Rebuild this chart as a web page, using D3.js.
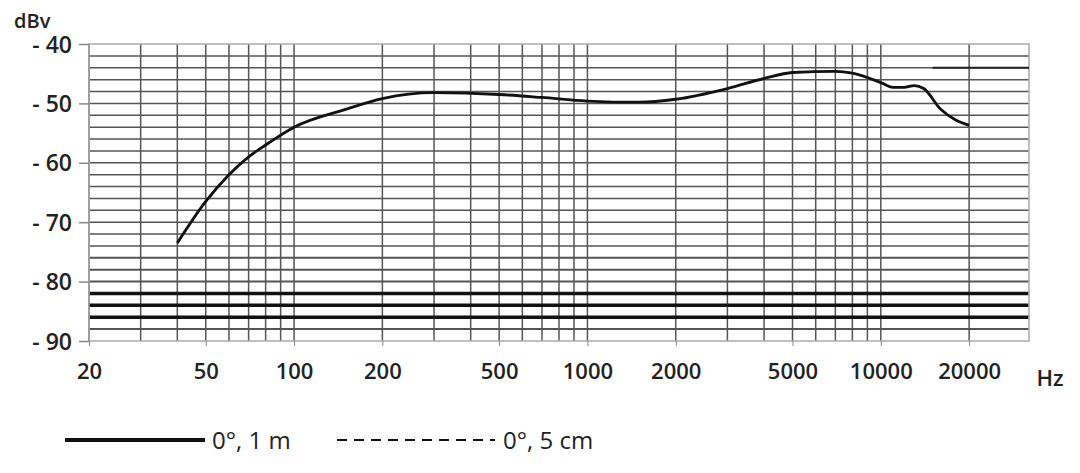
<!DOCTYPE html><html><head><meta charset="utf-8"><script src="https://cdn.jsdelivr.net/npm/d3@7"></script>
<style>body{margin:0;background:#fff}text{font-family:"Open Sans",sans-serif;fill:#222}</style></head><body><svg width="1080" height="473"></svg><script>
const freqs=[40,50,60,70,80,100,150,200,300,500,700,1000,1500,2000,3000,4000,5000,7000,8000,10000,11000,12000,13000,14000,16000,18000,20000];
const dbv=[-73.5,-66.5,-62,-59,-57,-54,-51,-49.2,-48.2,-48.5,-49,-49.6,-49.8,-49.3,-47.5,-45.8,-44.8,-44.6,-44.9,-46.5,-47.3,-47.3,-47,-47.5,-51,-52.8,-53.7];
const xTicks=[20,50,100,200,500,1000,2000,5000,10000,20000];
const yTicks=[-40,-50,-60,-70,-80,-90];
const vGrid=[20,30,40,50,60,70,80,90,100,200,300,400,500,600,700,800,900,1000,2000,3000,4000,5000,6000,7000,8000,9000,10000,20000];
const hGrid=d3.range(-88,-40,2);
const thickH=[-82,-84,-86];
const svg=d3.select("svg");
const x=d3.scaleLog().domain([20,32000]).range([89,1029]);
const y=d3.scaleLinear().domain([-90,-40]).range([341,44]);
const g=svg.append("g");
g.selectAll(".v").data(vGrid).join("line").attr("x1",d=>x(d)).attr("x2",d=>x(d)).attr("y1",44).attr("y2",341).attr("stroke","#555").attr("stroke-width",1.5);
g.selectAll(".h").data(hGrid).join("line").attr("x1",89).attr("x2",1029).attr("y1",d=>y(d)).attr("y2",d=>y(d)).attr("stroke",d=>thickH.includes(d)?"#111":"#555").attr("stroke-width",d=>thickH.includes(d)?3.5:(d<=-76?2:1.5));
g.append("rect").attr("x",89).attr("y",44).attr("width",940).attr("height",297).attr("fill","none").attr("stroke","#aaa").attr("stroke-width",1.5);
g.append("line").attr("x1",x(15000)).attr("x2",1029).attr("y1",y(-44)).attr("y2",y(-44)).attr("stroke","#222").attr("stroke-width",2);
const ya=d3.axisLeft(y).tickValues(yTicks).tickSize(10).tickFormat(d=>"- "+Math.abs(d));
const yg=svg.append("g").attr("transform","translate(89,0)").call(ya);
yg.select(".domain").remove();
yg.selectAll("line").attr("stroke","#888").attr("stroke-width",1.5);
yg.selectAll("text").attr("font-size",23).attr("font-weight",600).attr("x",-17).attr("dy","0.35em").attr("fill","#222");
const xa=d3.axisBottom(x).tickValues(xTicks).tickSize(5).tickFormat(d=>d);
const xg=svg.append("g").attr("transform","translate(0,341)").call(xa);
xg.select(".domain").remove();
xg.selectAll("line").attr("stroke","#888");
xg.selectAll("text").attr("font-size",22).attr("font-weight",600).attr("y",22).attr("fill","#222");
svg.append("text").attr("x",1050).attr("y",386).attr("font-size",22).attr("font-weight",600).attr("text-anchor","middle").text("Hz");
svg.append("text").attr("x",14).attr("y",28).attr("font-size",20).attr("font-weight",600).text("dBv");
svg.append("path").datum(freqs.map((f,i)=>[f,dbv[i]])).attr("d",d3.line().x(d=>x(d[0])).y(d=>y(d[1])).curve(d3.curveMonotoneX)).attr("fill","none").attr("stroke","#111").attr("stroke-width",2.8);
svg.append("line").attr("x1",65).attr("x2",205).attr("y1",440).attr("y2",440).attr("stroke","#111").attr("stroke-width",4);
svg.append("text").attr("x",212).attr("y",449).attr("font-size",24).text("0°, 1 m");
svg.append("line").attr("x1",337).attr("x2",495).attr("y1",440).attr("y2",440).attr("stroke","#111").attr("stroke-width",2).attr("stroke-dasharray","10,7");
svg.append("text").attr("x",503).attr("y",449).attr("font-size",24).text("0°, 5 cm");
</script></body></html>
